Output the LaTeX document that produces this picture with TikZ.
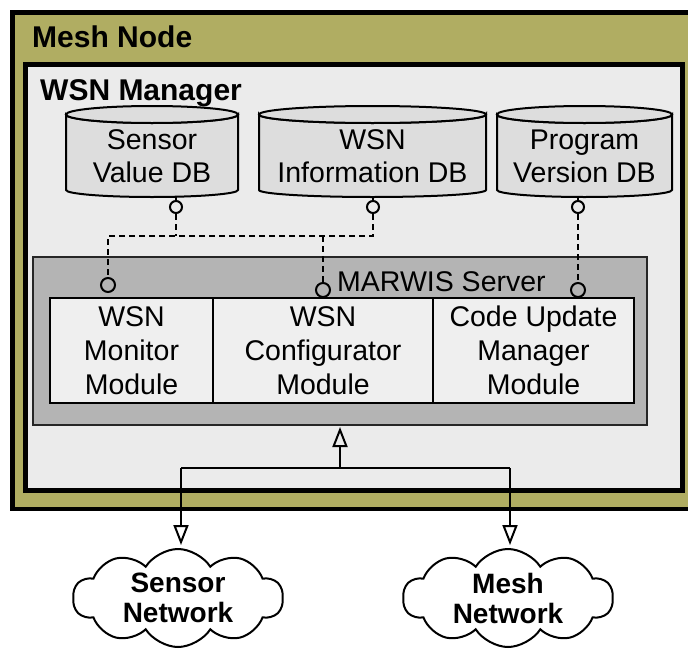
\documentclass[tikz,border=0pt]{standalone}
\usepackage{fontspec}
\setmainfont{Liberation Sans}
\usetikzlibrary{arrows.meta,shapes.symbols}
\definecolor{mesholive}{RGB}{176,173,98}
\definecolor{mgrgray}{RGB}{235,235,235}
\definecolor{cylgray}{RGB}{221,221,221}
\definecolor{srvgray}{RGB}{180,180,180}
\definecolor{modgray}{RGB}{239,239,239}
\newcommand\regfont{\fontsize{28.5}{33}\selectfont}
\newcommand\modfont{\fontsize{28.5}{34}\selectfont}
\newcommand\titlefont{\bfseries\fontsize{30}{36}\selectfont}
\newcommand\cloudfont{\bfseries\fontsize{28}{30}\selectfont}
\begin{document}
\begin{tikzpicture}[x=1pt,y=-1pt,
  meshbox/.style={draw=black, line width=4.5pt, fill=mesholive, inner sep=0pt, outer sep=0pt, anchor=north west},
  mgrbox/.style={draw=black, line width=4.5pt, fill=mgrgray, inner sep=0pt, outer sep=0pt, anchor=north west},
  srvbox/.style={draw=black!85, line width=2pt, fill=srvgray, inner sep=0pt, outer sep=0pt},
  modbox/.style={draw=black, line width=2pt, fill=modgray, inner sep=0pt, outer sep=0pt, font=\modfont, align=center},
  cyl/.style={draw=black, line width=2pt, fill=cylgray},
  dbtext/.style={font=\regfont, align=center, inner sep=0pt},
  label/.style={inner sep=0pt, anchor=base west},
  lolli/.style={circle, draw=black, line width=2pt, fill=mgrgray, inner sep=0pt, minimum size=12pt},
  lollib/.style={circle, draw=black, line width=2pt, fill=srvgray, inner sep=0pt, minimum size=14pt},
  dashline/.style={line width=2pt, dash pattern=on 6pt off 4pt},
  link/.style={line width=2pt},
  openarrow/.style={-{Triangle[open,length=20pt,width=15pt]}, line width=2pt},
  netcloud/.style={cloud, draw=black, line width=2pt, cloud puffs=10, cloud puff arc=115, aspect=2.1,
    minimum width=210pt, minimum height=98pt, inner sep=0pt, font=\cloudfont, align=center, fill=white}
]
\useasboundingbox (0,0) rectangle (688,648);
\fill[white] (0,0) rectangle (688,648);

% boxes
\node[meshbox, minimum width=687.5pt, minimum height=496.5pt] (mesh) at (12.5,12.5) {};
\node[label, font=\titlefont] (meshlabel) at (32,47) {Mesh Node};
\node[mgrbox, minimum width=657pt, minimum height=426pt] (mgr) at (25.5,64.5) {};
\node[label, font=\titlefont] (mgrlabel) at (40,100) {WSN Manager};

% databases
\filldraw[cyl] (66,114.5) -- (66,190) arc[start angle=180,end angle=0,x radius=86,y radius=7]
  -- (238,114.5) arc[start angle=0,end angle=180,x radius=86,y radius=8.5] -- cycle;
\filldraw[cyl] (152,114.5) ellipse[x radius=86, y radius=8.5];
\filldraw[cyl] (259,114.5) -- (259,190) arc[start angle=180,end angle=0,x radius=113.5,y radius=7]
  -- (486,114.5) arc[start angle=0,end angle=180,x radius=113.5,y radius=8.5] -- cycle;
\filldraw[cyl] (372.5,114.5) ellipse[x radius=113.5, y radius=8.5];
\filldraw[cyl] (497,114.5) -- (497,190) arc[start angle=180,end angle=0,x radius=87.5,y radius=7]
  -- (672,114.5) arc[start angle=0,end angle=180,x radius=87.5,y radius=8.5] -- cycle;
\filldraw[cyl] (584.5,114.5) ellipse[x radius=87.5, y radius=8.5];
\node[dbtext] (svdb) at (152,156) {Sensor\\Value DB};
\node[dbtext] (widb) at (372.5,156) {WSN\\Information DB};
\node[dbtext] (pvdb) at (584.5,156) {Program\\Version DB};

% server
\node[srvbox, minimum width=614pt, minimum height=168pt] (marwis) at (340,341) {};
\node[label, font=\regfont] (srvlabel) at (337,291) {MARWIS Server};
\node[modbox, minimum width=163pt, minimum height=105pt] (mon) at (131.5,350.5) {WSN\\Monitor\\Module};
\node[modbox, minimum width=220pt, minimum height=105pt] (conf) at (323,350.5) {WSN\\Configurator\\Module};
\node[modbox, minimum width=201pt, minimum height=105pt] (cum) at (533.5,350.5) {Code Update\\Manager\\Module};

% interfaces
\coordinate (svdb-b) at (176,196.5);
\coordinate (widb-b) at (373,197);
\coordinate (pvdb-b) at (578,197);
\node[lolli] (svp) at (176,207) {};
\node[lolli] (wip) at (373,207) {};
\node[lolli] (pvp) at (578,207) {};
\draw[link] (svdb-b) -- (svp.north);
\draw[link] (widb-b) -- (wip.north);
\draw[link] (pvdb-b) -- (pvp.north);
\node[lollib] (monp) at (108,285) {};
\node[lollib] (confp) at (323,290) {};
\node[lollib] (cump) at (578,290) {};
\coordinate (j1) at (176,236);
\coordinate (j2) at (373,236);
\coordinate (jl) at (108,236);
\coordinate (jm) at (323,236);
\draw[dashline] (svp.south) -- (j1);
\draw[dashline] (wip.south) -- (j2) -- (jl) -- (monp.north);
\draw[dashline] (jm) -- (confp.north);
\draw[dashline] (pvp.south) -- (cump.north);

% networks
\node[netcloud] (sn) at (178,598) {Sensor\\Network};
\node[netcloud] (mn) at (508,598) {Mesh\\Network};
\coordinate (bus) at (340,468);
\coordinate (busl) at (181,468);
\coordinate (busr) at (510,468);
\draw[openarrow, shorten >=2pt] (bus) -- (marwis.south);
\draw[link] (busl) -- (busr);
\draw[openarrow, shorten >=3pt] (busl) -- (busl |- sn.north);
\draw[openarrow, shorten >=3pt] (busr) -- (busr |- mn.north);
\end{tikzpicture}
\end{document}
